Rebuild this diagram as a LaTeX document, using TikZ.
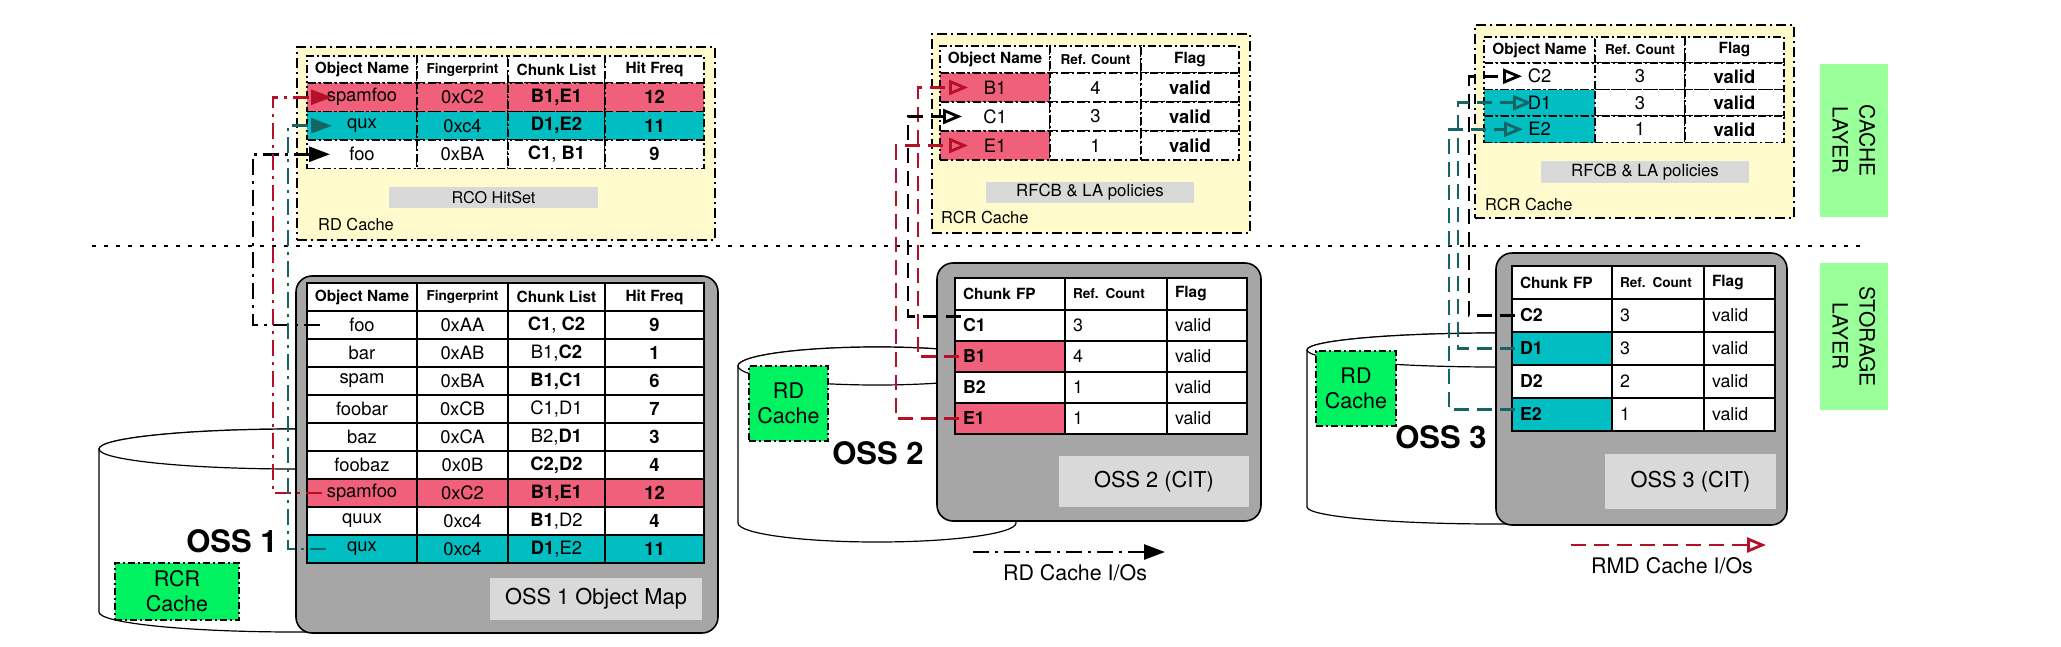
\documentclass[tikz,border=0pt]{standalone}
\usepackage{fontspec}
\setmainfont{TeX Gyre Heros}
\usetikzlibrary{positioning,arrows.meta}

\definecolor{pinkrow}{RGB}{240,96,122}
\definecolor{tealrow}{RGB}{0,190,194}
\definecolor{rmdred}{RGB}{180,16,40}
\definecolor{tealio}{RGB}{22,100,100}
\definecolor{cacheyellow}{RGB}{255,251,204}
\definecolor{ossgray}{RGB}{166,166,166}
\definecolor{labelgray}{RGB}{217,217,217}
\definecolor{diskgreen}{RGB}{0,242,96}
\definecolor{layergreen}{RGB}{153,255,153}

\newcommand{\hdfont}{\fontsize{15.4}{18}\selectfont\bfseries}
\newcommand{\smhdfont}{\fontsize{13.6}{16}\selectfont\bfseries}
\newcommand{\cellfont}{\fontsize{18.4}{22}\selectfont}
\newcommand{\citfont}{\fontsize{17.8}{21}\selectfont}
\newcommand{\capfont}{\fontsize{16.4}{19}\selectfont}
\newcommand{\tagfont}{\fontsize{21.8}{26}\selectfont}
\newcommand{\boxfont}{\fontsize{21.5}{25}\selectfont}
\newcommand{\ossfont}{\fontsize{31}{36}\selectfont\bfseries}

\tikzset{
	sz/.style 2 args={minimum width=#1pt,minimum height=#2pt},
	ccell/.style={draw,line width=1.1pt,dash pattern=on 8pt off 3pt on 2pt off 3pt,fill=white,inner sep=0pt,outer sep=0pt,font=\cellfont},
	ocell/.style={draw,line width=1.4pt,fill=white,inner sep=0pt,outer sep=0pt,font=\cellfont},
	lcell/.style={draw,line width=1.4pt,fill=white,inner xsep=8pt,inner ysep=0pt,outer sep=0pt,align=left,font=\citfont,text width=#1},
	cachebox/.style={draw,line width=1.8pt,dash pattern=on 10pt off 4pt on 2pt off 4pt,fill=cacheyellow,inner sep=0pt,outer sep=0pt},
	ossbox/.style={draw,line width=1.6pt,fill=ossgray,rounded corners=16pt,inner sep=0pt,outer sep=0pt},
	disk/.style={draw,line width=1.2pt,fill=white},
	tagbox/.style={fill=labelgray,inner sep=0pt},
	diskcache/.style={draw,line width=1.2pt,dash pattern=on 7pt off 3pt on 2pt off 3pt,fill=diskgreen,align=center,font=\boxfont,inner sep=0pt},
	layerbox/.style={fill=layergreen,inner sep=0pt,align=center,font=\fontsize{21}{27}\selectfont},
	sepline/.style={line width=2.6pt,dash pattern=on 4pt off 8pt},
	rdio/.style={line width=2.8pt,dash pattern=on 16pt off 6pt on 3pt off 6pt,-{Triangle[length=21pt,width=15pt]}},
	rmdio/.style={line width=2.8pt,dash pattern=on 15pt off 8pt,-{Triangle[open,length=19pt,width=15pt]}},
}

\begin{document}
\begin{tikzpicture}[x=1pt,y=-1pt]
	\useasboundingbox (0,0) rectangle (2061,646);

	% layer tags
	\node[layerbox,rotate=-90,minimum width=153pt,minimum height=68pt](cachelayer) at (1854,140.5){CACHE\\LAYER};
	\node[layerbox,rotate=-90,minimum width=147pt,minimum height=68pt](storelayer) at (1854,336.5){STORAGE\\LAYER};

	% RD cache (RCO HitSet)
	\node[cachebox,minimum width=418pt,minimum height=193pt,anchor=north west](rdcache) at (297,47){};
	\node[ccell,font=\hdfont,sz={110}{27},anchor=north west](rdh1) at (307,56){Object Name};
	\node[ccell,font=\smhdfont,sz={91}{27},right=0pt of rdh1](rdh2){Fingerprint};
	\node[ccell,font=\hdfont,sz={97}{27},right=0pt of rdh2](rdh3){Chunk List};
	\node[ccell,font=\hdfont,sz={99}{27},right=0pt of rdh3](rdh4){Hit Freq};
	\node[ccell,fill=pinkrow,sz={110}{28.5},below=0pt of rdh1](rd11){spamfoo};
	\node[ccell,fill=pinkrow,sz={91}{28.5},right=0pt of rd11](rd12){0xC2};
	\node[ccell,fill=pinkrow,sz={97}{28.5},right=0pt of rd12](rd13){\textbf{B1,E1}};
	\node[ccell,fill=pinkrow,sz={99}{28.5},right=0pt of rd13](rd14){\textbf{12}};
	\node[ccell,fill=tealrow,sz={110}{28.5},below=0pt of rd11](rd21){qux};
	\node[ccell,fill=tealrow,sz={91}{28.5},right=0pt of rd21](rd22){0xc4};
	\node[ccell,fill=tealrow,sz={97}{28.5},right=0pt of rd22](rd23){\textbf{D1,E2}};
	\node[ccell,fill=tealrow,sz={99}{28.5},right=0pt of rd23](rd24){\textbf{11}};
	\node[ccell,sz={110}{28.5},below=0pt of rd21](rd31){foo};
	\node[ccell,sz={91}{28.5},right=0pt of rd31](rd32){0xBA};
	\node[ccell,sz={97}{28.5},right=0pt of rd32](rd33){\textbf{C1}, \textbf{B1}};
	\node[ccell,sz={99}{28.5},right=0pt of rd33](rd34){\textbf{9}};
	\node[tagbox,font=\fontsize{16.2}{19}\selectfont,sz={209}{21}](rdpolicy) at (493.5,197.5){RCO HitSet};
	\node[font=\capfont,anchor=west,inner sep=0pt](rdname) at (318,225){RD Cache};

	% RCR cache of OSS 2
	\node[cachebox,minimum width=318pt,minimum height=199pt,anchor=north west](racache) at (932,34){};
	\node[ccell,font=\hdfont,sz={110}{27},anchor=north west](raA) at (940,46){Object Name};
	\node[ccell,font=\smhdfont,sz={91}{27},right=0pt of raA](raB){Ref. Count};
	\node[ccell,font=\hdfont,sz={98}{27},right=0pt of raB](raC){Flag};
	\node[ccell,fill=pinkrow,sz={110}{29},below=0pt of raA](ra1a){B1};
	\node[ccell,sz={91}{29},right=0pt of ra1a](ra1b){4};
	\node[ccell,sz={98}{29},right=0pt of ra1b](ra1c){\textbf{valid}};
	\node[ccell,sz={110}{29},below=0pt of ra1a](ra2a){C1};
	\node[ccell,sz={91}{29},right=0pt of ra2a](ra2b){3};
	\node[ccell,sz={98}{29},right=0pt of ra2b](ra2c){\textbf{valid}};
	\node[ccell,fill=pinkrow,sz={110}{29},below=0pt of ra2a](ra3a){E1};
	\node[ccell,sz={91}{29},right=0pt of ra3a](ra3b){1};
	\node[ccell,sz={98}{29},right=0pt of ra3b](ra3c){\textbf{valid}};
	\node[tagbox,font=\fontsize{16.8}{20}\selectfont,sz={208}{21}](rapolicy) at (1090,192.5){RFCB \& LA policies};
	\node[font=\capfont,anchor=west,inner sep=0pt](raname) at (941,218){RCR Cache};

	% RCR cache of OSS 3
	\node[cachebox,minimum width=319pt,minimum height=193pt,anchor=north west](rbcache) at (1475,25){};
	\node[ccell,font=\hdfont,sz={111}{26},anchor=north west](rbA) at (1484,37){Object Name};
	\node[ccell,font=\smhdfont,sz={90}{26},right=0pt of rbA](rbB){Ref. Count};
	\node[ccell,font=\hdfont,sz={99}{26},right=0pt of rbB](rbC){Flag};
	\node[ccell,sz={111}{26.5},below=0pt of rbA](rb1a){C2};
	\node[ccell,sz={90}{26.5},right=0pt of rb1a](rb1b){3};
	\node[ccell,sz={99}{26.5},right=0pt of rb1b](rb1c){\textbf{valid}};
	\node[ccell,fill=tealrow,sz={111}{26.5},below=0pt of rb1a](rb2a){D1};
	\node[ccell,sz={90}{26.5},right=0pt of rb2a](rb2b){3};
	\node[ccell,sz={99}{26.5},right=0pt of rb2b](rb2c){\textbf{valid}};
	\node[ccell,fill=tealrow,sz={111}{26.5},below=0pt of rb2a](rb3a){E2};
	\node[ccell,sz={90}{26.5},right=0pt of rb3a](rb3b){1};
	\node[ccell,sz={99}{26.5},right=0pt of rb3b](rb3c){\textbf{valid}};
	\node[tagbox,font=\fontsize{16.8}{20}\selectfont,sz={208}{22}](rbpolicy) at (1645,172){RFCB \& LA policies};
	\node[font=\capfont,anchor=west,inner sep=0pt](rbname) at (1485,205){RCR Cache};

	% cache / storage border
	\coordinate(sepL) at (92,246);
	\coordinate(sepR) at (1860,246);
	\draw[sepline](sepL) -- (sepR);

	% OSS 1
	\draw[disk] (99,449) -- (99,612) arc[start angle=180,end angle=360,x radius=197pt,y radius=20pt] -- (493,449) arc[start angle=0,end angle=180,x radius=197pt,y radius=20pt];
	\draw[disk] (296,449) ellipse[x radius=197pt,y radius=20pt];
	\node[ossbox,minimum width=422pt,minimum height=357pt,anchor=north west](oss1) at (296,276){};
	\node[ocell,font=\hdfont,sz={110}{28},anchor=north west](o1hA) at (307,283){Object Name};
	\node[ocell,font=\smhdfont,sz={91}{28},right=0pt of o1hA](o1hB){Fingerprint};
	\node[ocell,font=\hdfont,sz={97}{28},right=0pt of o1hB](o1hC){Chunk List};
	\node[ocell,font=\hdfont,sz={99}{28},right=0pt of o1hC](o1hD){Hit Freq};
	\node[ocell,sz={110}{28},below=0pt of o1hA](o1a1){foo};
	\node[ocell,sz={91}{28},right=0pt of o1a1](o1b1){0xAA};
	\node[ocell,sz={97}{28},right=0pt of o1b1](o1c1){\textbf{C1}, \textbf{C2}};
	\node[ocell,sz={99}{28},right=0pt of o1c1](o1d1){\textbf{9}};
	\node[ocell,sz={110}{28},below=0pt of o1a1](o1a2){bar};
	\node[ocell,sz={91}{28},right=0pt of o1a2](o1b2){0xAB};
	\node[ocell,sz={97}{28},right=0pt of o1b2](o1c2){B1,\textbf{C2}};
	\node[ocell,sz={99}{28},right=0pt of o1c2](o1d2){\textbf{1}};
	\node[ocell,sz={110}{28},below=0pt of o1a2](o1a3){spam};
	\node[ocell,sz={91}{28},right=0pt of o1a3](o1b3){0xBA};
	\node[ocell,sz={97}{28},right=0pt of o1b3](o1c3){\textbf{B1,C1}};
	\node[ocell,sz={99}{28},right=0pt of o1c3](o1d3){\textbf{6}};
	\node[ocell,sz={110}{28},below=0pt of o1a3](o1a4){foobar};
	\node[ocell,sz={91}{28},right=0pt of o1a4](o1b4){0xCB};
	\node[ocell,sz={97}{28},right=0pt of o1b4](o1c4){C1,D1};
	\node[ocell,sz={99}{28},right=0pt of o1c4](o1d4){\textbf{7}};
	\node[ocell,sz={110}{28},below=0pt of o1a4](o1a5){baz};
	\node[ocell,sz={91}{28},right=0pt of o1a5](o1b5){0xCA};
	\node[ocell,sz={97}{28},right=0pt of o1b5](o1c5){B2,\textbf{D1}};
	\node[ocell,sz={99}{28},right=0pt of o1c5](o1d5){\textbf{3}};
	\node[ocell,sz={110}{28},below=0pt of o1a5](o1a6){foobaz};
	\node[ocell,sz={91}{28},right=0pt of o1a6](o1b6){0x0B};
	\node[ocell,sz={97}{28},right=0pt of o1b6](o1c6){\textbf{C2,D2}};
	\node[ocell,sz={99}{28},right=0pt of o1c6](o1d6){\textbf{4}};
	\node[ocell,fill=pinkrow,sz={110}{28},below=0pt of o1a6](o1a7){spamfoo};
	\node[ocell,fill=pinkrow,sz={91}{28},right=0pt of o1a7](o1b7){0xC2};
	\node[ocell,fill=pinkrow,sz={97}{28},right=0pt of o1b7](o1c7){\textbf{B1,E1}};
	\node[ocell,fill=pinkrow,sz={99}{28},right=0pt of o1c7](o1d7){\textbf{12}};
	\node[ocell,sz={110}{28},below=0pt of o1a7](o1a8){quux};
	\node[ocell,sz={91}{28},right=0pt of o1a8](o1b8){0xc4};
	\node[ocell,sz={97}{28},right=0pt of o1b8](o1c8){\textbf{B1},D2};
	\node[ocell,sz={99}{28},right=0pt of o1c8](o1d8){\textbf{4}};
	\node[ocell,fill=tealrow,sz={110}{28},below=0pt of o1a8](o1a9){qux};
	\node[ocell,fill=tealrow,sz={91}{28},right=0pt of o1a9](o1b9){0xc4};
	\node[ocell,fill=tealrow,sz={97}{28},right=0pt of o1b9](o1c9){\textbf{D1},E2};
	\node[ocell,fill=tealrow,sz={99}{28},right=0pt of o1c9](o1d9){\textbf{11}};
	\node[tagbox,font=\tagfont,sz={212}{42}](o1tag) at (596,599){OSS 1 Object Map};
	\node[diskcache,sz={124}{57}](o1disk) at (177,591.5){RCR\\Cache};
	\node[font=\ossfont](o1name) at (232,541){OSS 1};

	% OSS 2
	\draw[disk] (738,366) -- (738,523) arc[start angle=180,end angle=360,x radius=139pt,y radius=19pt] -- (1016,366) arc[start angle=0,end angle=180,x radius=139pt,y radius=19pt];
	\draw[disk] (877,366) ellipse[x radius=139pt,y radius=19pt];
	\node[ossbox,minimum width=324pt,minimum height=258pt,anchor=north west](oss2) at (937,263){};
	\node[lcell=94pt,font=\hdfont,minimum height=32pt,anchor=north west](o2hA) at (955,278){Chunk FP};
	\node[lcell=86pt,font=\smhdfont,minimum height=32pt,right=0pt of o2hA](o2hB){Ref. Count};
	\node[lcell=64pt,font=\hdfont,minimum height=32pt,right=0pt of o2hB](o2hC){Flag};
	\node[lcell=94pt,minimum height=31pt,below=0pt of o2hA](o2a1){\textbf{C1}};
	\node[lcell=86pt,minimum height=31pt,right=0pt of o2a1](o2b1){3};
	\node[lcell=64pt,minimum height=31pt,right=0pt of o2b1](o2c1){valid};
	\node[lcell=94pt,fill=pinkrow,minimum height=31pt,below=0pt of o2a1](o2a2){\textbf{B1}};
	\node[lcell=86pt,minimum height=31pt,right=0pt of o2a2](o2b2){4};
	\node[lcell=64pt,minimum height=31pt,right=0pt of o2b2](o2c2){valid};
	\node[lcell=94pt,minimum height=31pt,below=0pt of o2a2](o2a3){\textbf{B2}};
	\node[lcell=86pt,minimum height=31pt,right=0pt of o2a3](o2b3){1};
	\node[lcell=64pt,minimum height=31pt,right=0pt of o2b3](o2c3){valid};
	\node[lcell=94pt,fill=pinkrow,minimum height=31pt,below=0pt of o2a3](o2a4){\textbf{E1}};
	\node[lcell=86pt,minimum height=31pt,right=0pt of o2a4](o2b4){1};
	\node[lcell=64pt,minimum height=31pt,right=0pt of o2b4](o2c4){valid};
	\node[tagbox,font=\tagfont,sz={190}{51}](o2tag) at (1154,481.5){OSS 2 (CIT)};
	\node[diskcache,sz={79}{75}](o2disk) at (788.5,403.5){RD\\Cache};
	\node[font=\ossfont](o2name) at (878,453){OSS 2};

	% OSS 3
	\draw[disk] (1307,350) -- (1307,507) arc[start angle=180,end angle=360,x radius=189pt,y radius=17pt] -- (1685,350) arc[start angle=0,end angle=180,x radius=189pt,y radius=17pt];
	\draw[disk] (1496,350) ellipse[x radius=189pt,y radius=17pt];
	\node[ossbox,minimum width=291pt,minimum height=272pt,anchor=north west](oss3) at (1496,253){};
	\node[lcell=84pt,font=\hdfont,minimum height=33pt,anchor=north west](o3hA) at (1512,266){Chunk FP};
	\node[lcell=76pt,font=\smhdfont,minimum height=33pt,right=0pt of o3hA](o3hB){Ref. Count};
	\node[lcell=55pt,font=\hdfont,minimum height=33pt,right=0pt of o3hB](o3hC){Flag};
	\node[lcell=84pt,minimum height=33pt,below=0pt of o3hA](o3a1){\textbf{C2}};
	\node[lcell=76pt,minimum height=33pt,right=0pt of o3a1](o3b1){3};
	\node[lcell=55pt,minimum height=33pt,right=0pt of o3b1](o3c1){valid};
	\node[lcell=84pt,fill=tealrow,minimum height=33pt,below=0pt of o3a1](o3a2){\textbf{D1}};
	\node[lcell=76pt,minimum height=33pt,right=0pt of o3a2](o3b2){3};
	\node[lcell=55pt,minimum height=33pt,right=0pt of o3b2](o3c2){valid};
	\node[lcell=84pt,minimum height=33pt,below=0pt of o3a2](o3a3){\textbf{D2}};
	\node[lcell=76pt,minimum height=33pt,right=0pt of o3a3](o3b3){2};
	\node[lcell=55pt,minimum height=33pt,right=0pt of o3b3](o3c3){valid};
	\node[lcell=84pt,fill=tealrow,minimum height=33pt,below=0pt of o3a3](o3a4){\textbf{E2}};
	\node[lcell=76pt,minimum height=33pt,right=0pt of o3a4](o3b4){1};
	\node[lcell=55pt,minimum height=33pt,right=0pt of o3b4](o3c4){valid};
	\node[tagbox,font=\tagfont,sz={171}{55}](o3tag) at (1690.5,481.5){OSS 3 (CIT)};
	\node[diskcache,sz={80}{75}](o3disk) at (1356,388.5){RD\\Cache};
	\node[font=\ossfont](o3name) at (1441,437){OSS 3};

	% RD cache I/Os
	\draw[rdio,black]([xshift=13pt]o1a1.west) -- ++(-67,0) |- ([xshift=23pt]rd31.west);
	\draw[rdio,rmdred]([xshift=15pt]o1a7.west) -- ++(-49,0) |- ([xshift=25pt]rd11.west);
	\draw[rdio,tealio]([xshift=19pt]o1a9.west) -- ++(-38,0) |- ([xshift=25pt]rd21.west);

	% RMD cache I/Os
	\draw[rmdio,rmdred]([xshift=4pt]o2a4.west) -- ++(-63,0) |- ([xshift=28pt]ra3a.west);
	\draw[rmdio,rmdred]([xshift=4pt]o2a2.west) -- ++(-41,0) |- ([xshift=28pt]ra1a.west);
	\draw[rmdio,black]([xshift=6pt,yshift=9pt]o2a1.west) -- ++(-53,0) |- ([xshift=22pt]ra2a.west);
	\draw[rmdio,black]([xshift=3pt]o3a1.west) -- ++(-46,0) |- ([xshift=38pt]rb1a.west);
	\draw[rmdio,tealio]([xshift=3pt]o3a2.west) -- ++(-57,0) |- ([xshift=48pt]rb2a.west);
	\draw[rmdio,tealio]([xshift=3pt,yshift=5pt]o3a4.west) -- ++(-66,0) |- ([xshift=39pt]rb3a.west);

	% legend
	\coordinate(rdkeyA) at (973,552);
	\coordinate(rdkeyB) at (1165,552);
	\draw[rdio,black](rdkeyA) -- (rdkeyB);
	\node[font=\fontsize{21.4}{25}\selectfont](rdkey) at (1075,573){RD Cache I/Os};
	\coordinate(rmdkeyA) at (1571,545);
	\coordinate(rmdkeyB) at (1766,545);
	\draw[rmdio,rmdred](rmdkeyA) -- (rmdkeyB);
	\node[font=\fontsize{21.4}{25}\selectfont](rmdkey) at (1672,566){RMD Cache I/Os};
\end{tikzpicture}
\end{document}
